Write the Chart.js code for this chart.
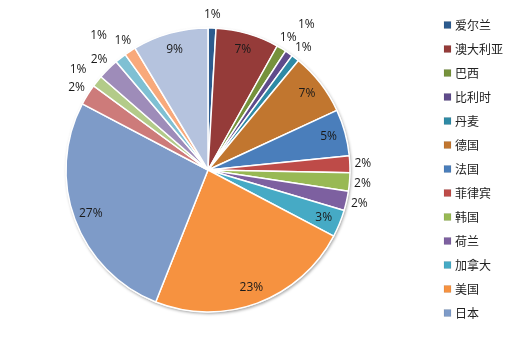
<!DOCTYPE html>
<html>
<head>
<meta charset="utf-8">
<script src="https://cdn.jsdelivr.net/npm/chart.js@4/dist/chart.umd.min.js"></script>
<style>
  html, body { margin: 0; padding: 0; background: #fff; }
  #wrap { width: 521px; height: 337px; position: relative; }
</style>
</head>
<body>
<div id="wrap"><canvas id="pie" width="521" height="337"></canvas></div>
<script>
// 各国占比（%），后六项不进图例
const countries = ['爱尔兰', '澳大利亚', '巴西', '比利时', '丹麦', '德国', '法国', '菲律宾', '韩国', '荷兰', '加拿大', '美国', '日本',
  '其他1', '其他2', '其他3', '其他4', '其他5', '其他6'];
const shares = [0.9, 7.2, 1.1, 0.9, 0.9, 7.1, 5.3, 1.9, 2.1, 2.2, 3.1, 23.3, 26.7,
  2.4, 1.3, 2.4, 1.3, 1.3, 8.6];
const legendCount = 13;

const colors = ['#2C5B8E', '#953B39', '#76923C', '#5F4B8B', '#2E8AA5', '#C1762F', '#4A7EBB', '#BE4B48', '#98B954', '#7D60A0', '#46AAC5', '#F69240', '#7E9BC8',
  '#CD7B7A', '#B3CB89', '#9E8CB9', '#7FC0D3', '#F8A97B', '#B5C3DE'];

// 小于 3% 的扇区标签放在外侧
const insideMin = 2.5;
// 个别外侧标签避让
const nudge = { 3: [10, -18], 14: [-9, -4], 16: [-14, -12] };

const shadowPlugin = {
  id: 'pieShadow',
  beforeDatasetsDraw(chart) {
    const arc = chart.getDatasetMeta(0).data[0];
    if (!arc) return;
    const ctx = chart.ctx;
    ctx.save();
    ctx.beginPath();
    ctx.arc(arc.x, arc.y, arc.outerRadius + 0.5, 0, Math.PI * 2);
    ctx.fillStyle = '#fff';
    ctx.shadowColor = 'rgba(0,0,0,0.35)';
    ctx.shadowBlur = 3;
    ctx.shadowOffsetX = 1;
    ctx.shadowOffsetY = 1.5;
    ctx.fill();
    ctx.restore();
  }
};

const labelPlugin = {
  id: 'pctLabels',
  afterDatasetsDraw(chart) {
    const ctx = chart.ctx;
    const meta = chart.getDatasetMeta(0);
    const total = shares.reduce((a, b) => a + b, 0);
    ctx.save();
    ctx.font = '12px "Open Sans", "Liberation Sans", sans-serif';
    ctx.fillStyle = '#1a1a1a';
    ctx.textAlign = 'center';
    ctx.textBaseline = 'middle';
    meta.data.forEach((arc, i) => {
      const pct = shares[i] / total * 100;
      const mid = (arc.startAngle + arc.endAngle) / 2;
      const r = pct >= insideMin ? arc.outerRadius * 0.88 : arc.outerRadius + 13;
      let x = arc.x + Math.cos(mid) * r;
      let y = arc.y + Math.sin(mid) * r;
      if (nudge[i]) { x += nudge[i][0]; y += nudge[i][1]; }
      ctx.fillText(Math.round(pct) + '%', x, y);
    });
    ctx.restore();
  }
};

const legendPlugin = {
  id: 'sideLegend',
  afterDraw(chart) {
    const ctx = chart.ctx;
    ctx.save();
    ctx.font = '12px "Noto Sans CJK SC", sans-serif';
    ctx.textBaseline = 'middle';
    ctx.fillStyle = '#222';
    for (let i = 0; i < legendCount; i++) {
      const y = 25 + i * 24;
      ctx.fillStyle = colors[i];
      ctx.fillRect(444, y - 3.5, 7, 7);
      ctx.strokeStyle = 'rgba(0,0,0,0.15)';
      ctx.lineWidth = 0.5;
      ctx.strokeRect(444, y - 3.5, 7, 7);
      ctx.fillStyle = '#222';
      ctx.fillText(countries[i], 455, y);
    }
    ctx.restore();
  }
};

new Chart(document.getElementById('pie'), {
  type: 'pie',
  data: {
    labels: countries,
    datasets: [{
      data: shares,
      backgroundColor: colors,
      borderColor: '#fff',
      borderWidth: 1.5
    }]
  },
  options: {
    responsive: false,
    animation: false,
    radius: 142,
    layout: { padding: { left: 40, right: 145, top: 20, bottom: 17 } },
    plugins: {
      legend: { display: false },
      tooltip: { enabled: false }
    }
  },
  plugins: [shadowPlugin, labelPlugin, legendPlugin]
});
</script>
</body>
</html>
